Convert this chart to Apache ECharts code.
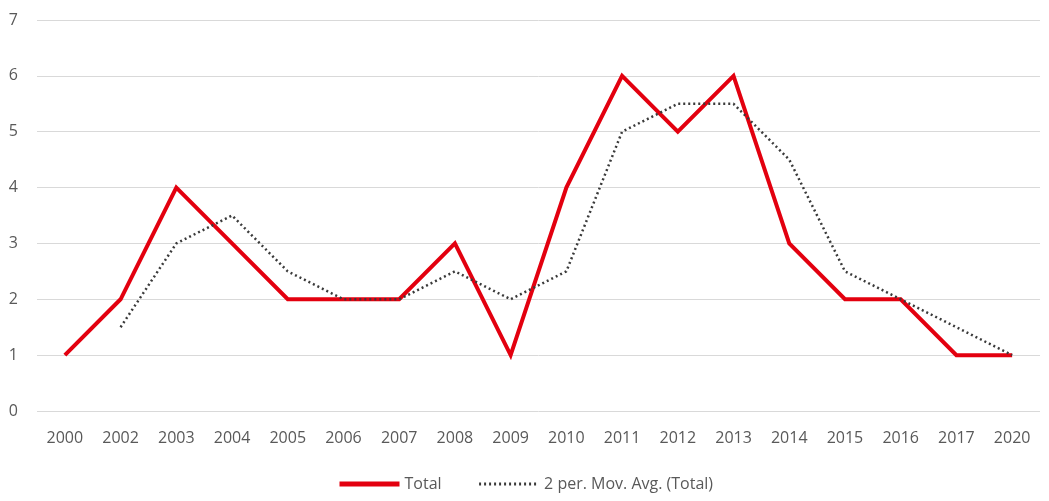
<!DOCTYPE html>
<html>
<head>
<meta charset="utf-8">
<script src="https://cdn.jsdelivr.net/npm/echarts@6/dist/echarts.min.js"></script>
<style>
	html, body { margin: 0; padding: 0; background: #fff; }
	#chart { width: 1049px; height: 501px; }
</style>
</head>
<body>
<div id="chart"></div>
<script>
const years = ["2000", "2002", "2003", "2004", "2005", "2006", "2007", "2008", "2009",
	"2010", "2011", "2012", "2013", "2014", "2015", "2016", "2017", "2020"];
const total = [1, 2, 4, 3, 2, 2, 2, 3, 1, 4, 6, 5, 6, 3, 2, 2, 1, 1];
// 2 period moving average of total
const movAvg = [null, 1.5, 3, 3.5, 2.5, 2, 2, 2.5, 2, 2.5, 5, 5.5, 5.5, 4.5, 2.5, 2, 1.5, 1];

const font = "'Open Sans', sans-serif";
let myChart = echarts.init(document.getElementById("chart"));

myChart.setOption({
	animation: false,
	textStyle: { fontFamily: font },
	grid: { left: 37, right: 9, top: 20, bottom: 90 },
	legend: {
		bottom: 4,
		left: 332,
		itemWidth: 60,
		itemHeight: 12,
		itemGap: 36,
		itemStyle: { opacity: 0 },
		textStyle: { fontSize: 16, color: "#595959", fontFamily: font },
		data: [
			{ name: "Total", lineStyle: { width: 5 } },
			{ name: "2 per. Mov. Avg. (Total)", lineStyle: { width: 3 } },
		],
	},
	xAxis: {
		type: "category",
		data: years,
		axisLine: { show: false },
		axisTick: { show: false },
		axisLabel: { color: "#595959", fontSize: 16, margin: 19 },
	},
	yAxis: {
		type: "value",
		min: 0,
		max: 7,
		interval: 1,
		axisLabel: { color: "#595959", fontSize: 16, margin: 19 },
		splitLine: { lineStyle: { color: "#d9d9d9", width: 1 } },
	},
	series: [
		{
			name: "Total",
			type: "line",
			data: total,
			symbol: "none",
			lineStyle: { color: "#e3000f", width: 4, join: "miter" },
			itemStyle: { color: "#e3000f" },
		},
		{
			name: "2 per. Mov. Avg. (Total)",
			type: "line",
			data: movAvg,
			symbol: "none",
			lineStyle: { color: "#3a3a3a", width: 2.5, type: [2, 3] },
			itemStyle: { color: "#3a3a3a" },
		},
	],
});

window.onresize = function () {
	myChart.resize();
};
</script>
</body>
</html>
